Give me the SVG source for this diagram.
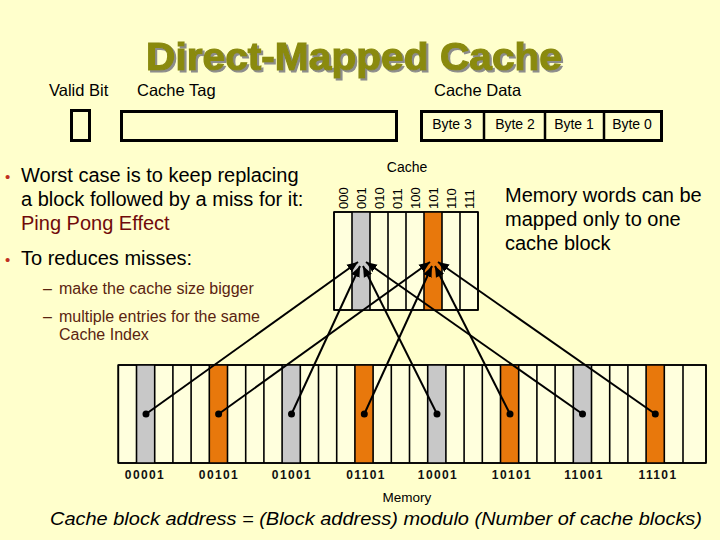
<svg xmlns="http://www.w3.org/2000/svg" width="720" height="540" viewBox="0 0 720 540">
<style>
  .sans { font-family: "Liberation Sans", Arial, sans-serif; }
  .lbl { font-family: "Liberation Sans", Arial, sans-serif; font-size: 16.5px; fill: #000; }
  .byte { font-family: "Liberation Sans", Arial, sans-serif; font-size: 14px; fill: #000; text-anchor: middle; }
  .box { fill: none; stroke: #000; stroke-width: 3; }
  .main { font-family: "Liberation Sans", Arial, sans-serif; font-size: 20px; fill: #000; }
  .sub { font-family: "Liberation Sans", Arial, sans-serif; font-size: 16px; fill: #5A2410; }
  .bullet { fill: #C03020; }
  .col { fill: #FFFFDD; stroke: #000; stroke-width: 1.6; }
  .gray { fill: #C8C8C8; }
  .orange { fill: #E8780C; }
  .idx { font-family: "Liberation Sans", Arial, sans-serif; font-size: 13px; fill: #000; }
  .addr { font-family: "Liberation Sans", Arial, sans-serif; font-size: 12px; font-weight: bold; fill: #111; text-anchor: middle; letter-spacing: 1.4px; }
  .conn line { stroke: #000; stroke-width: 2; marker-end: url(#ah); }
  .dot { fill: #000; }
</style>
<defs>
  <marker id="ah" markerUnits="userSpaceOnUse" markerWidth="12" markerHeight="10" refX="11" refY="5" orient="auto">
    <path d="M0,0.5 L11,5 L0,9.5 Z" fill="#000"/>
  </marker>
  <filter id="shadow" x="-5%" y="-20%" width="110%" height="140%">
    <feDropShadow dx="2" dy="2" stdDeviation="0.6" flood-color="#8C8C8C" flood-opacity="1"/>
  </filter>
</defs>
<rect x="0" y="0" width="720" height="540" fill="#FFFFCC"/>

<g id="title">
  <text x="354" y="70" class="sans" font-size="39" font-weight="bold" text-anchor="middle" fill="#8A8A10" stroke="#8A8A10" stroke-width="1.2" textLength="416" lengthAdjust="spacingAndGlyphs" filter="url(#shadow)">Direct-Mapped Cache</text>
</g>

<g id="valid-bit">
  <text x="49" y="96" class="lbl">Valid Bit</text>
  <rect x="71.5" y="110.5" width="18" height="30" class="box"/>
</g>
<g id="cache-tag">
  <text x="137" y="96" class="lbl">Cache Tag</text>
  <rect x="121.5" y="111.5" width="275" height="29" class="box"/>
</g>
<g id="cache-data">
  <text x="434" y="96" class="lbl">Cache Data</text>
  <rect x="421.5" y="111.5" width="240" height="29" class="box"/>
  <line x1="484" y1="111" x2="484" y2="141" stroke="#000" stroke-width="2.5"/>
  <line x1="545" y1="111" x2="545" y2="141" stroke="#000" stroke-width="2.5"/>
  <line x1="604" y1="111" x2="604" y2="141" stroke="#000" stroke-width="2.5"/>
  <text x="452" y="129" class="byte">Byte 3</text>
  <text x="515" y="129" class="byte">Byte 2</text>
  <text x="574" y="129" class="byte">Byte 1</text>
  <text x="632" y="129" class="byte">Byte 0</text>
</g>

<g id="bullets">
  <text x="5" y="182" class="sans bullet" font-size="15">•</text>
  <text x="21" y="182" class="main">Worst case is to keep replacing</text>
  <text x="21" y="206" class="main">a block followed by a miss for it:</text>
  <text x="21" y="230" class="main" style="fill:#700A0A">Ping Pong Effect</text>
  <text x="5" y="265" class="sans bullet" font-size="15">•</text>
  <text x="21" y="265" class="main">To reduces misses:</text>
  <text x="43" y="294" class="sub">–</text>
  <text x="59" y="294" class="sub">make the cache size bigger</text>
  <text x="43" y="322" class="sub">–</text>
  <text x="59" y="322" class="sub">multiple entries for the same</text>
  <text x="59" y="340" class="sub">Cache Index</text>
</g>

<g id="note">
  <text x="505" y="202" class="main">Memory words can be</text>
  <text x="505" y="226" class="main">mapped only to one</text>
  <text x="505" y="250" class="main">cache block</text>
</g>

<g id="cache">
  <text x="407" y="172" class="sans" font-size="14" text-anchor="middle">Cache</text>
  <rect x="334" y="212" width="144" height="98" class="col"/>
  <rect x="352" y="212" width="18" height="98" class="gray"/>
  <rect x="424" y="212" width="18" height="98" class="orange"/>
  <g stroke="#000" stroke-width="1.6">
    <line x1="334" y1="212" x2="334" y2="310"/><line x1="352" y1="212" x2="352" y2="310"/>
    <line x1="370" y1="212" x2="370" y2="310"/><line x1="388" y1="212" x2="388" y2="310"/>
    <line x1="406" y1="212" x2="406" y2="310"/><line x1="424" y1="212" x2="424" y2="310"/>
    <line x1="442" y1="212" x2="442" y2="310"/><line x1="460" y1="212" x2="460" y2="310"/>
    <line x1="478" y1="212" x2="478" y2="310"/>
    <line x1="334" y1="212" x2="478" y2="212"/><line x1="334" y1="310" x2="478" y2="310"/>
  </g>
  <text transform="translate(347.5,209) rotate(-90)" class="idx">000</text>
  <text transform="translate(365.5,209) rotate(-90)" class="idx">001</text>
  <text transform="translate(383.5,209) rotate(-90)" class="idx">010</text>
  <text transform="translate(401.5,209) rotate(-90)" class="idx">011</text>
  <text transform="translate(419.5,209) rotate(-90)" class="idx">100</text>
  <text transform="translate(437.5,209) rotate(-90)" class="idx">101</text>
  <text transform="translate(455.5,209) rotate(-90)" class="idx">110</text>
  <text transform="translate(473.5,209) rotate(-90)" class="idx">111</text>
</g>

<g id="memory">
  <rect x="118.3" y="365" width="587.7" height="98" class="col"/>
  <rect x="136.5" y="365" width="18.2" height="98" class="gray"/>
  <rect x="282.1" y="365" width="18.2" height="98" class="gray"/>
  <rect x="427.7" y="365" width="18.2" height="98" class="gray"/>
  <rect x="573.3" y="365" width="18.2" height="98" class="gray"/>
  <rect x="209.3" y="365" width="18.2" height="98" class="orange"/>
  <rect x="354.9" y="365" width="18.2" height="98" class="orange"/>
  <rect x="500.5" y="365" width="18.2" height="98" class="orange"/>
  <rect x="646.1" y="365" width="18.2" height="98" class="orange"/>
  <g stroke="#000" stroke-width="1.6">
    <line x1="118.3" y1="365" x2="706" y2="365"/><line x1="118.3" y1="463" x2="706" y2="463"/>
    <line x1="118.3" y1="365" x2="118.3" y2="463"/><line x1="136.5" y1="365" x2="136.5" y2="463"/>
    <line x1="154.7" y1="365" x2="154.7" y2="463"/><line x1="172.9" y1="365" x2="172.9" y2="463"/>
    <line x1="191.1" y1="365" x2="191.1" y2="463"/><line x1="209.3" y1="365" x2="209.3" y2="463"/>
    <line x1="227.5" y1="365" x2="227.5" y2="463"/><line x1="245.7" y1="365" x2="245.7" y2="463"/>
    <line x1="263.9" y1="365" x2="263.9" y2="463"/><line x1="282.1" y1="365" x2="282.1" y2="463"/>
    <line x1="300.3" y1="365" x2="300.3" y2="463"/><line x1="318.5" y1="365" x2="318.5" y2="463"/>
    <line x1="336.7" y1="365" x2="336.7" y2="463"/><line x1="354.9" y1="365" x2="354.9" y2="463"/>
    <line x1="373.1" y1="365" x2="373.1" y2="463"/><line x1="391.3" y1="365" x2="391.3" y2="463"/>
    <line x1="409.5" y1="365" x2="409.5" y2="463"/><line x1="427.7" y1="365" x2="427.7" y2="463"/>
    <line x1="445.9" y1="365" x2="445.9" y2="463"/><line x1="464.1" y1="365" x2="464.1" y2="463"/>
    <line x1="482.3" y1="365" x2="482.3" y2="463"/><line x1="500.5" y1="365" x2="500.5" y2="463"/>
    <line x1="518.7" y1="365" x2="518.7" y2="463"/><line x1="536.9" y1="365" x2="536.9" y2="463"/>
    <line x1="555.1" y1="365" x2="555.1" y2="463"/><line x1="573.3" y1="365" x2="573.3" y2="463"/>
    <line x1="591.5" y1="365" x2="591.5" y2="463"/><line x1="609.7" y1="365" x2="609.7" y2="463"/>
    <line x1="627.9" y1="365" x2="627.9" y2="463"/><line x1="646.1" y1="365" x2="646.1" y2="463"/>
    <line x1="664.3" y1="365" x2="664.3" y2="463"/><line x1="683" y1="365" x2="683" y2="463"/>
    <line x1="706" y1="365" x2="706" y2="463"/>
  </g>
  <circle cx="146" cy="414" r="3.5" class="dot"/>
  <circle cx="218.6" cy="414" r="3.5" class="dot"/>
  <circle cx="291.5" cy="414" r="3.5" class="dot"/>
  <circle cx="364.3" cy="414" r="3.5" class="dot"/>
  <circle cx="437" cy="414" r="3.5" class="dot"/>
  <circle cx="510" cy="414" r="3.5" class="dot"/>
  <circle cx="582.5" cy="414" r="3.5" class="dot"/>
  <circle cx="655.3" cy="414" r="3.5" class="dot"/>
  <text x="145" y="479" class="addr">00001</text>
  <text x="219" y="479" class="addr">00101</text>
  <text x="292" y="479" class="addr">01001</text>
  <text x="366" y="479" class="addr">01101</text>
  <text x="438" y="479" class="addr">10001</text>
  <text x="512" y="479" class="addr">10101</text>
  <text x="584" y="479" class="addr">11001</text>
  <text x="658" y="479" class="addr">11101</text>
  <text x="407" y="502" class="sans" font-size="13.5" text-anchor="middle">Memory</text>
</g>

<g id="connectors" class="conn">
  <line x1="146" y1="414" x2="358" y2="262"/>
  <line x1="291.5" y1="414" x2="360" y2="266"/>
  <line x1="437" y1="414" x2="363" y2="266"/>
  <line x1="582.5" y1="414" x2="366" y2="262"/>
  <line x1="218.6" y1="414" x2="430" y2="262"/>
  <line x1="364.3" y1="414" x2="432" y2="266"/>
  <line x1="510" y1="414" x2="435" y2="266"/>
  <line x1="655.3" y1="414" x2="438" y2="262"/>
</g>

<g id="formula">
  <text x="50" y="525" class="sans" font-size="18.5" font-style="italic" textLength="652" lengthAdjust="spacingAndGlyphs">Cache block address = (Block address) modulo (Number of cache blocks)</text>
</g>
</svg>
